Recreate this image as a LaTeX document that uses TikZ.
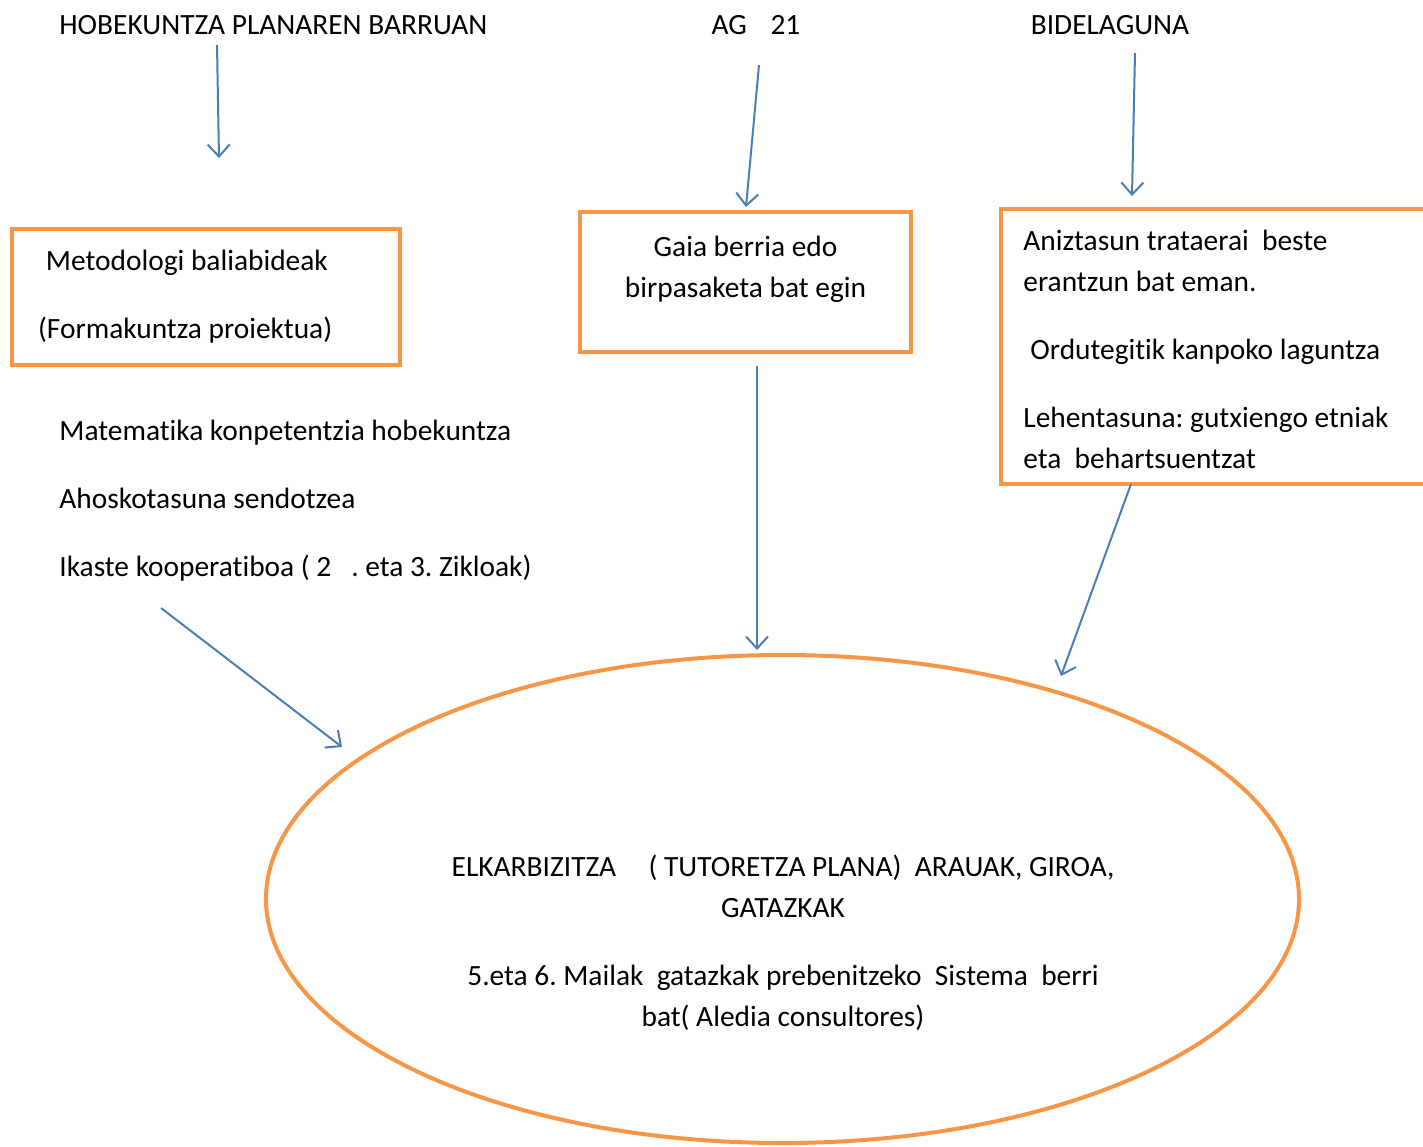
\documentclass[tikz,border=0pt]{standalone}
\usepackage{fontspec}
\setmainfont{Carlito}[Ligatures={NoCommon}]
\newfontfamily\narrowfont{Carlito}[FakeStretch=1.0, Ligatures={NoCommon}]
\usepackage{tikz}
\usetikzlibrary{positioning, arrows.meta, shapes.geometric}
\frenchspacing

\definecolor{boxorange}{HTML}{F79646}
\definecolor{arrowblue}{HTML}{4A7EBB}

\tikzset{
  txt/.style={inner sep=0pt, font=\fontsize{14.7pt}{20.5pt}\selectfont},
  elltxt/.style={inner sep=0pt, font=\narrowfont\fontsize{14.7pt}{20.5pt}\selectfont},
  orangebox/.style={draw=boxorange, line width=2pt, rectangle, inner sep=0pt},
  bluearrow/.style={draw=arrowblue, line width=1pt, -{Straight Barb[length=6pt, width=11pt]}},
}

\begin{document}
\begin{tikzpicture}[x=0.5pt, y=-0.5pt]
        \useasboundingbox (0,0) rectangle (1423,1146);

        % Titles on top
        \node[txt, anchor=west] (hob) at (59,25) {HOBEKUNTZA PLANAREN BARRUAN};
        \node[txt] (ag) at (756,25) {AG\hspace{0.8em}21};
        \node[txt] (bide) at (1110,25) {BIDELAGUNA};

        % The three orange boxes
        \node[orangebox, txt, minimum width=194pt, minimum height=68pt, text width=168pt, align=flush left] (metod) at (206,297)
            {\hspace*{4pt}Metodologi baliabideak\\[13.5pt](Formakuntza proiektua)};
        \node[orangebox, minimum width=165.5pt, minimum height=70pt] (gaia) at (745.5,282) {};
        \node[txt, align=center, below=13pt of gaia.north] (gaiatxt) {Gaia berria edo\\birpasaketa bat egin};
        \node[orangebox, minimum width=222pt, minimum height=137.5pt] (anizt) at (1223,346.5) {};
        \node[txt, align=flush left, anchor=north west] (anizttxt) at ([xshift=12pt, yshift=-11.5pt]anizt.north west)
            {Aniztasun trataerai\ \ beste\\erantzun bat eman.\\[13.5pt]\hspace*{3.5pt}Ordutegitik kanpoko laguntza\\[13.5pt]Lehentasuna: gutxiengo etniak\\eta\ \ behartsuentzat};

        % List under the first box
        \node[txt, anchor=west, align=flush left] (lista) at (59,501)
            {Matematika konpetentzia hobekuntza\\[13.5pt]Ahoskotasuna sendotzea\\[13.5pt]Ikaste kooperatiboa ( 2\ \ \ . eta 3. Zikloak)};

        % The big ellipse
        \node[draw=boxorange, line width=2pt, ellipse, minimum width=516.5pt, minimum height=244pt] (elkar) at (782.5,899) {};
        \node[elltxt, align=center] (elkartxt) at (783,943)
            {ELKARBIZITZA\hspace{1.1em}( TUTORETZA PLANA)\ \ ARAUAK, GIROA,\\GATAZKAK\\[13.5pt]5.eta 6. Mailak\ \ gatazkak prebenitzeko\ \ Sistema\ \ berri\\bat( Aledia consultores)};

        % Arrow ends
        \coordinate (hobA) at (217,45);
        \coordinate (hobB) at (219,158);
        \coordinate (agA) at (759,65);
        \coordinate (agB) at (746,207);
        \coordinate (bideA) at (1135,53);
        \coordinate (bideB) at (1132,196);
        \coordinate (listaA) at (161,608);
        \coordinate (listaB) at (342,747);
        \coordinate (gaiaA) at (757,366);
        \coordinate (gaiaB) at (757,650);
        \coordinate (aniztA) at (1131,484);
        \coordinate (aniztB) at (1061,676);

        % Blue arrows
        \draw[bluearrow] (hobA) -- (hobB);
        \draw[bluearrow] (agA) -- (agB);
        \draw[bluearrow] (bideA) -- (bideB);
        \draw[bluearrow] (listaA) -- (listaB);
        \draw[bluearrow] (gaiaA) -- (gaiaB);
        \draw[bluearrow] (aniztA) -- (aniztB);

\end{tikzpicture}
\end{document}
